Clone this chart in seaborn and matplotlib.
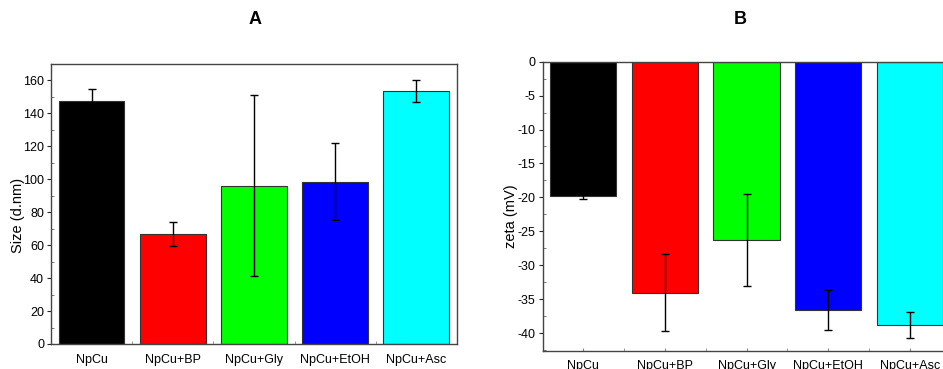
import numpy as np
import pandas as pd
import matplotlib
matplotlib.use("Agg")
import matplotlib.pyplot as plt
from matplotlib.ticker import MultipleLocator
import seaborn as sns

samples = ["NpCu", "NpCu+BP", "NpCu+Gly", "NpCu+EtOH", "NpCu+Asc"]
bar_colors = ["#000000", "#ff0000", "#00ff00", "#0000ff", "#00ffff"]

size_mean = [147.8, 67.0, 96.2, 98.6, 153.5]
size_err = [7.3, 7.3, 55.0, 23.5, 6.5]

zeta_mean = [-19.75, -34.05, -26.25, -36.6, -38.8]
zeta_err = [0.5, 5.7, 6.75, 3.0, 1.9]

sns.set_style("ticks")
plt.rcParams["font.family"] = ["Liberation Sans", "DejaVu Sans"]
plt.rcParams["axes.edgecolor"] = "#444444"
plt.rcParams["axes.linewidth"] = 1.0
plt.rcParams["axes.unicode_minus"] = False
plt.rcParams["text.color"] = "black"
plt.rcParams["axes.labelcolor"] = "black"
plt.rcParams["xtick.labelcolor"] = "black"
plt.rcParams["ytick.labelcolor"] = "black"

fig = plt.figure(figsize=(9.43, 3.69), dpi=100)
ax_a = fig.add_axes([0.0541, 0.0678, 0.4305, 0.7588])
ax_b = fig.add_axes([0.5753, 0.0496, 0.4327, 0.7832])


def draw_panel(ax, means, errs):
    df = pd.DataFrame({"sample": samples, "value": means})
    sns.barplot(data=df, x="sample", y="value", hue="sample", palette=bar_colors,
                legend=False, errorbar=None, width=0.81, saturation=1,
                edgecolor="#333333", linewidth=0.8, ax=ax)
    ax.errorbar(np.arange(len(samples)), means, yerr=errs, fmt="none",
                ecolor="black", elinewidth=1.0, capsize=2.7, capthick=1.0, zorder=5)
    ax.set_xlim(-0.5, len(samples) - 0.5)
    ax.set_xlabel("")
    for s in ax.spines.values():
        s.set_visible(True)
        s.set_color("#444444")
    ax.xaxis.set_minor_locator(MultipleLocator(0.5))
    ax.tick_params(axis="x", which="major", length=2, direction="in", pad=7,
                   labelsize=9, color="#888888")
    ax.tick_params(axis="x", which="minor", length=2, direction="in", color="#888888")
    ax.tick_params(axis="y", which="major", length=3, direction="out", pad=2,
                   labelsize=9)
    ax.tick_params(axis="y", which="minor", length=2, direction="in", color="#666666")


draw_panel(ax_a, size_mean, size_err)
ax_a.set_ylim(0, 170)
ax_a.yaxis.set_major_locator(MultipleLocator(20))
ax_a.yaxis.set_minor_locator(MultipleLocator(10))
ax_a.set_ylabel("Size (d.nm)", fontsize=10.5)
ax_a.yaxis.set_label_coords(-0.064, 0.46)

draw_panel(ax_b, zeta_mean, zeta_err)
ax_b.set_ylim(-42.6, 0)
ax_b.yaxis.set_major_locator(MultipleLocator(5))
ax_b.yaxis.set_minor_locator(MultipleLocator(2.5))
ax_b.set_ylabel("zeta (mV)", fontsize=10.5)
ax_b.yaxis.set_label_coords(-0.059, 0.467)

title_font = ["Liberation Sans Narrow", "Liberation Sans", "DejaVu Sans"]
fig.text(0.270, 0.946, "A", ha="center", va="center", fontsize=13,
         fontweight="bold", family=title_font)
fig.text(0.785, 0.946, "B", ha="center", va="center", fontsize=13,
         fontweight="bold", family=title_font)

fig.savefig("out.png", dpi=100)
